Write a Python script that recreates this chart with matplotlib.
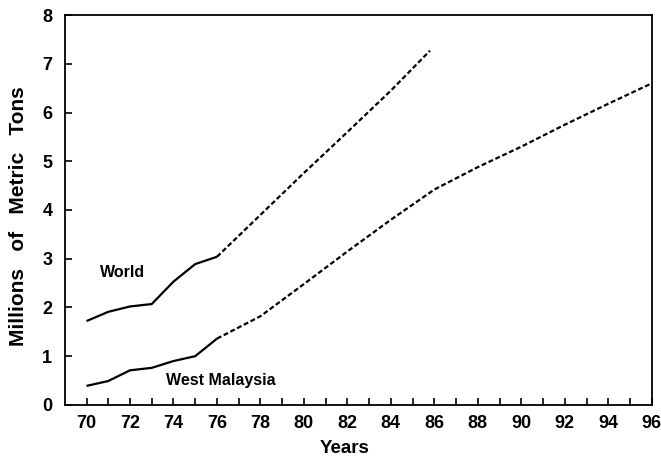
import matplotlib
matplotlib.use("Agg")
import matplotlib.pyplot as plt

# Data
world_years_actual = [70, 71, 72, 73, 74, 75, 76]
world_actual = [1.72, 1.91, 2.02, 2.07, 2.53, 2.89, 3.04]
world_years_proj = [76, 78, 80, 82, 84, 85.8]
world_proj = [3.04, 3.9, 4.76, 5.6, 6.45, 7.27]

wm_years_actual = [70, 71, 72, 73, 74, 75, 76]
wm_actual = [0.39, 0.49, 0.71, 0.76, 0.9, 1.0, 1.36]
wm_years_proj = [76, 78, 80, 82, 84, 86, 88, 90, 92, 94, 96]
wm_proj = [1.36, 1.82, 2.48, 3.15, 3.8, 4.42, 4.88, 5.3, 5.75, 6.18, 6.6]

x_ticks = list(range(70, 97))
x_ticklabels = [str(v) if v % 2 == 0 else "" for v in x_ticks]
y_ticks = list(range(0, 9))

plt.rcParams['font.family'] = ['Liberation Sans', 'DejaVu Sans']

fig = plt.figure(figsize=(6.61, 4.57), dpi=100)
ax = fig.add_axes([0.098, 0.114, 0.888, 0.853])

ax.plot(world_years_actual, world_actual, color='black', lw=1.6, solid_capstyle='butt')
ax.plot(world_years_proj, world_proj, color='black', lw=1.6, dashes=(2.2, 1.2))
ax.plot(wm_years_actual, wm_actual, color='black', lw=1.6, solid_capstyle='butt')
ax.plot(wm_years_proj, wm_proj, color='black', lw=1.6, dashes=(2.2, 1.2))

ax.text(71.64, 2.72, "World", fontsize=11.5, fontweight='bold', ha='center', va='center')
ax.text(76.2, 0.5, "West Malaysia", fontsize=11.5, fontweight='bold', ha='center', va='center')

ax.set_xlim(69, 96)
ax.set_ylim(0, 8)
ax.set_xticks(x_ticks)
ax.set_xticklabels(x_ticklabels)
ax.set_yticks(y_ticks)
ax.tick_params(direction='in', length=5, width=1.2, labelsize=13)
ax.tick_params(axis='x', pad=7)
ax.tick_params(axis='y', pad=9)
for lab in ax.get_xticklabels() + ax.get_yticklabels():
    lab.set_fontweight('bold')
for s in ax.spines.values():
    s.set_linewidth(1.3)

ax.set_xlabel("Years", fontsize=13.5, fontweight='bold')
ax.xaxis.set_label_coords(0.477, -0.09)
ax.set_ylabel("Millions   of   Metric   Tons", fontsize=15, fontweight='bold')
ax.yaxis.set_label_coords(-0.062, 0.483)

fig.savefig("out.png", dpi=100)
